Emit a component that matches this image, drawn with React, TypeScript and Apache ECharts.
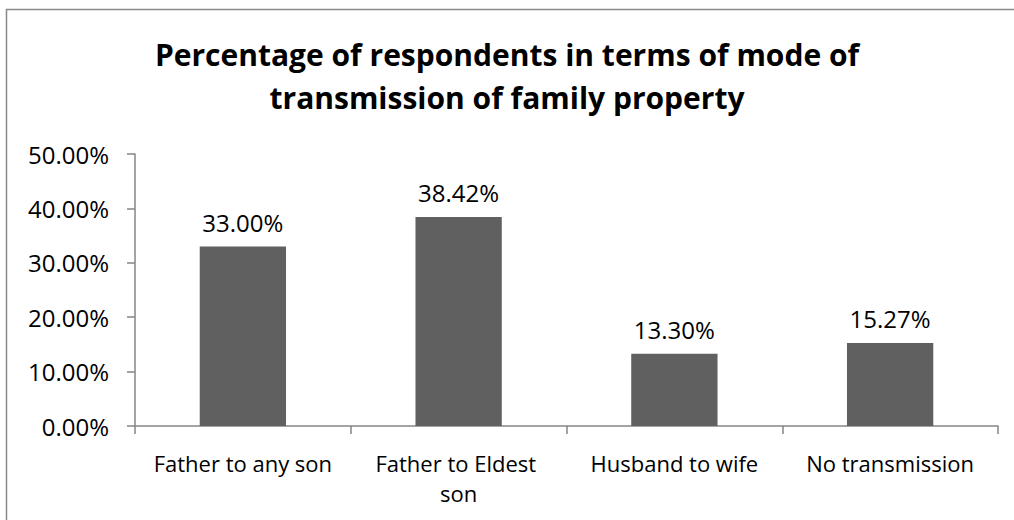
import React, { useEffect, useRef } from "react";
import * as echarts from "echarts";

const title = "Percentage of respondents in terms of mode of\ntransmission of family property";
const categories = ["Father to any son", "Father to Eldest son", "Husband to wife", "No transmission"];
const values = [33.0, 38.42, 13.3, 15.27];
const yTicks = { min: 0, max: 50, interval: 10 };

const FONT = "'Open Sans', sans-serif";

export default function App() {
  const ref = useRef<HTMLDivElement>(null);
  useEffect(() => {
    if (!ref.current) return;
    const chart = echarts.init(ref.current, undefined, { renderer: "svg" });
    chart.setOption({
      animation: false,
      backgroundColor: "#ffffff",
      textStyle: { fontFamily: FONT },
      title: {
        text: title,
        left: "center",
        top: 28,
        textStyle: {
          fontFamily: FONT,
          fontWeight: "bold",
          fontSize: 30,
          lineHeight: 43,
          color: "#000",
        },
      },
      graphic: [
        {
          type: "rect",
          shape: { x: 6.5, y: 9.5, width: 1030, height: 540 },
          style: { fill: "none", stroke: "#888888", lineWidth: 1.5 },
          silent: true,
        },
      ],
      grid: { left: 135, right: 16, top: 154, bottom: 94, containLabel: false },
      xAxis: {
        type: "category",
        data: categories,
        axisLine: { lineStyle: { color: "#868686", width: 1.5 } },
        axisTick: { show: true, length: 8, lineStyle: { color: "#868686", width: 1.5 } },
        axisLabel: {
          color: "#000",
          fontFamily: FONT,
          fontSize: 22,
          margin: 22,
          lineHeight: 30,
          width: 190,
          overflow: "break",
          interval: 0,
        },
      },
      yAxis: {
        type: "value",
        min: yTicks.min,
        max: yTicks.max,
        interval: yTicks.interval,
        splitLine: { show: false },
        axisLine: { show: true, lineStyle: { color: "#868686", width: 1.5 } },
        axisTick: { show: true, length: 8, lineStyle: { color: "#868686", width: 1.5 } },
        axisLabel: {
          color: "#000",
          fontFamily: FONT,
          fontSize: 24,
          margin: 26,
          formatter: (v: number) => v.toFixed(2) + "%",
        },
      },
      series: [
        {
          type: "bar",
          data: values,
          barWidth: "40%",
          itemStyle: { color: "#606060" },
          label: {
            show: true,
            position: "top",
            distance: 12,
            color: "#000",
            fontFamily: FONT,
            fontSize: 24,
            formatter: (p: any) => p.value.toFixed(2) + "%",
          },
        },
      ],
    });
    return () => chart.dispose();
  }, []);
  return (
    <div
      ref={ref}
      style={{ position: "fixed", left: 0, top: 0, width: 1014, height: 520 }}
    />
  );
}
